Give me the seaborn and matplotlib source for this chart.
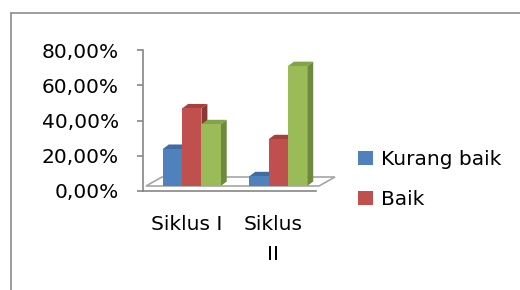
import pandas as pd
import numpy as np
import matplotlib
matplotlib.use('Agg')
import matplotlib.pyplot as plt
import matplotlib.transforms as mtransforms
from matplotlib.patches import Polygon, Patch
from matplotlib.lines import Line2D
import seaborn as sns

# data
siklus = ['Siklus I', 'Siklus II']
kurang_baik = [21.0, 5.5]
baik = [44.0, 26.5]
hijau = [35.0, 68.0]   # third series, its legend entry is cut off
seri = ['Kurang baik', 'Baik', 'Lainnya']
tick_labels = ['Siklus I', 'Siklus\nII']

front = ['#4F81BD', '#C0504D', '#9BBB59']
top = ['#3F6CA3', '#A4403D', '#84A24A']
side = ['#345A87', '#8A3836', '#6E8A3E']

df = pd.DataFrame({
    'siklus': siklus * 3,
    'seri': np.repeat(seri, 2),
    'nilai': kurang_baik + baik + hijau,
})

sns.set_style('white')
plt.rcParams['font.family'] = ['DejaVu Sans']
plt.rcParams['font.size'] = 14.5
plt.rcParams['text.color'] = 'black'
plt.rcParams['xtick.color'] = 'black'
plt.rcParams['ytick.color'] = 'black'

W, H = 520, 290
fig = plt.figure(figsize=(W / 100, H / 100), dpi=100)
ax_l, ax_r, ax_t, ax_b = 143, 316, 50, 191
ax = fig.add_axes([ax_l / W, 1 - ax_b / H, (ax_r - ax_l) / W, (ax_b - ax_t) / H])

sns.barplot(data=df, x='siklus', y='nilai', hue='seri', palette=front,
            width=0.67, legend=False, ax=ax, saturation=1, zorder=3)
ax.set_xlim(-0.5, 1.5)
ax.set_ylim(0, 80)

# pixel scales
sx = (ax_r - ax_l) / 2.0
sy = (ax_b - ax_t) / 80.0
ddx, ddy = 6 / sx, 4.5 / sy

# bars sit a little behind the front axis
off = ax.transData + mtransforms.ScaledTranslation(5.5 / 100, 5 / 100, fig.dpi_scale_trans)
floor_off = ax.transData + mtransforms.ScaledTranslation(3 / 100, 5 / 100, fig.dpi_scale_trans)

bars = list(ax.patches)
for i, p in enumerate(bars):
    p.set_transform(off)
    p.set_edgecolor('none')
    p.set_clip_on(False)
    k = i // 2
    x0, x1, h = p.get_x(), p.get_x() + p.get_width(), p.get_height()
    ax.add_patch(Polygon([(x0, h), (x1, h), (x1 + ddx, h + ddy), (x0 + ddx, h + ddy)],
                         closed=True, facecolor=top[k], edgecolor='none',
                         transform=off, zorder=2, clip_on=False))
    ax.add_patch(Polygon([(x1, 0), (x1 + ddx, ddy), (x1 + ddx, h + ddy), (x1, h)],
                         closed=True, facecolor=side[k], edgecolor='none',
                         transform=off, zorder=2, clip_on=False))

# floor
fdx, fdy = 16 / sx, 9 / sy
ax.add_patch(Polygon([(-0.5, 0), (1.5, 0), (1.5 + fdx, fdy), (-0.5 + fdx, fdy)],
                     closed=True, facecolor='white', edgecolor='#A6A6A6', lw=1.2,
                     transform=floor_off, zorder=1, clip_on=False))

for s in ['top', 'right']:
    ax.spines[s].set_visible(False)
for s in ['left', 'bottom']:
    ax.spines[s].set_color('#868686')
    ax.spines[s].set_linewidth(1.2)

ax.set_yticks([0, 20, 40, 60, 80])
ax.set_yticklabels([f'{v:.2f}'.replace('.', ',') + '%' for v in [0, 20, 40, 60, 80]])
ax.set_xticks([0, 1])
ax.set_xticklabels(tick_labels, linespacing=1.75, ha='center', multialignment='center')
ax.set_xticks([-0.5, 0.5, 1.5], minor=True)
ax.tick_params(axis='x', which='major', length=0, pad=17)
ax.tick_params(axis='x', which='minor', length=4.5, color='#868686', width=1.2, direction='out')
ax.tick_params(axis='y', length=4.5, color='#868686', labelcolor='black', width=1.2,
               direction='out', pad=13, left=True)
ax.tick_params(axis='x', labelcolor='black')
ax.set_xlabel('')
ax.set_ylabel('')

handles = [Patch(facecolor=front[0], edgecolor='none'),
           Patch(facecolor=front[1], edgecolor='none')]
fig.legend(handles, seri[:2], loc='upper left',
           bbox_to_anchor=(358 / W, 1 - 150 / H), frameon=False,
           borderaxespad=0, borderpad=0, handlelength=0.75, handleheight=0.75,
           handletextpad=0.4, labelspacing=1.05, fontsize=14.5)

# outer chart border (right and bottom are cut off)
fig.add_artist(Line2D([11 / W, 11 / W], [0, 1 - 13 / H], color='#8C8C8C', lw=1.2))
fig.add_artist(Line2D([11 / W, 1], [1 - 13 / H, 1 - 13 / H], color='#8C8C8C', lw=1.2))

fig.savefig('out.png', dpi=100)
